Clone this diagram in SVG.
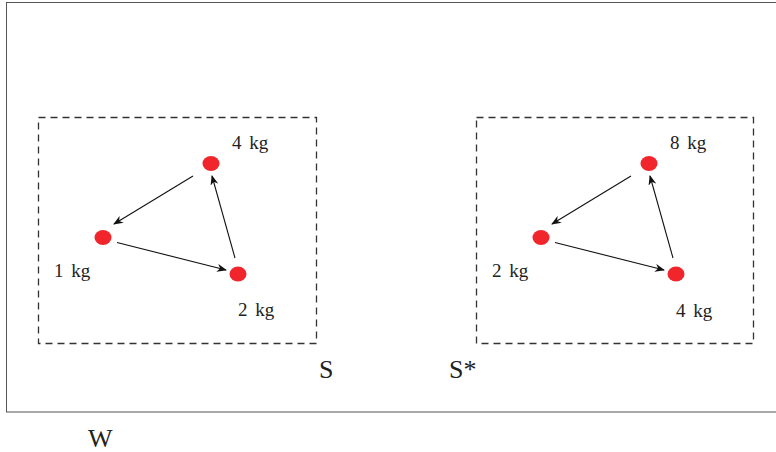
<svg xmlns="http://www.w3.org/2000/svg" width="776" height="452" viewBox="0 0 776 452">
<style>
.lbl{font-family:"Liberation Serif","DejaVu Serif",serif;font-size:19px;word-spacing:3px;fill:#222}
.big{font-family:"Liberation Serif","DejaVu Serif",serif;font-size:26px;fill:#222}
.box{fill:none;stroke:#333;stroke-width:1.3;stroke-dasharray:7,5}
.dot{fill:#f0262c}
.con{stroke:#111;stroke-width:1.1;fill:none;marker-end:url(#ah)}
</style>
<defs>
<marker id="ah" viewBox="0 0 10 8" refX="9" refY="4" markerWidth="10" markerHeight="8" markerUnits="userSpaceOnUse" orient="auto">
<path d="M0,0 L10,4 L0,8 L3,4 Z" fill="#111"/>
</marker>
</defs>
<rect width="776" height="452" fill="#fff"/>
<rect id="W-frame" x="6.5" y="2.5" width="790" height="409.5" fill="none" stroke="#555" stroke-width="1"/>
<g id="S">
<rect class="box" x="38.5" y="117.5" width="278" height="226"/>
<text class="big" x="319" y="378">S</text>
</g>
<g id="Sstar">
<rect class="box" x="476.5" y="117.5" width="277" height="226"/>
<text class="big" x="449" y="378">S*</text>
</g>
<g id="n1"><ellipse class="dot" cx="211" cy="163.5" rx="8.5" ry="7.5"/><text class="lbl" x="232" y="149">4 kg</text></g>
<g id="n2"><ellipse class="dot" cx="103" cy="237.5" rx="8.5" ry="7.5"/><text class="lbl" x="54" y="277">1 kg</text></g>
<g id="n3"><ellipse class="dot" cx="238" cy="274" rx="8.5" ry="7.5"/><text class="lbl" x="238" y="316">2 kg</text></g>
<g id="n4"><ellipse class="dot" cx="649" cy="163.5" rx="8.5" ry="7.5"/><text class="lbl" x="670" y="149">8 kg</text></g>
<g id="n5"><ellipse class="dot" cx="541" cy="237.5" rx="8.5" ry="7.5"/><text class="lbl" x="492" y="277">2 kg</text></g>
<g id="n6"><ellipse class="dot" cx="676" cy="274" rx="8.5" ry="7.5"/><text class="lbl" x="676" y="317">4 kg</text></g>
<g id="connectors">
<line class="con" x1="193" y1="176" x2="114" y2="224"/>
<line class="con" x1="117" y1="242.5" x2="226" y2="270"/>
<line class="con" x1="235" y1="258" x2="212" y2="176"/>
<line class="con" x1="631" y1="176" x2="552" y2="224"/>
<line class="con" x1="555" y1="242.5" x2="664" y2="270"/>
<line class="con" x1="673" y1="258" x2="650" y2="176"/>
</g>
<text id="W" class="big" x="88" y="447">W</text>
</svg>
